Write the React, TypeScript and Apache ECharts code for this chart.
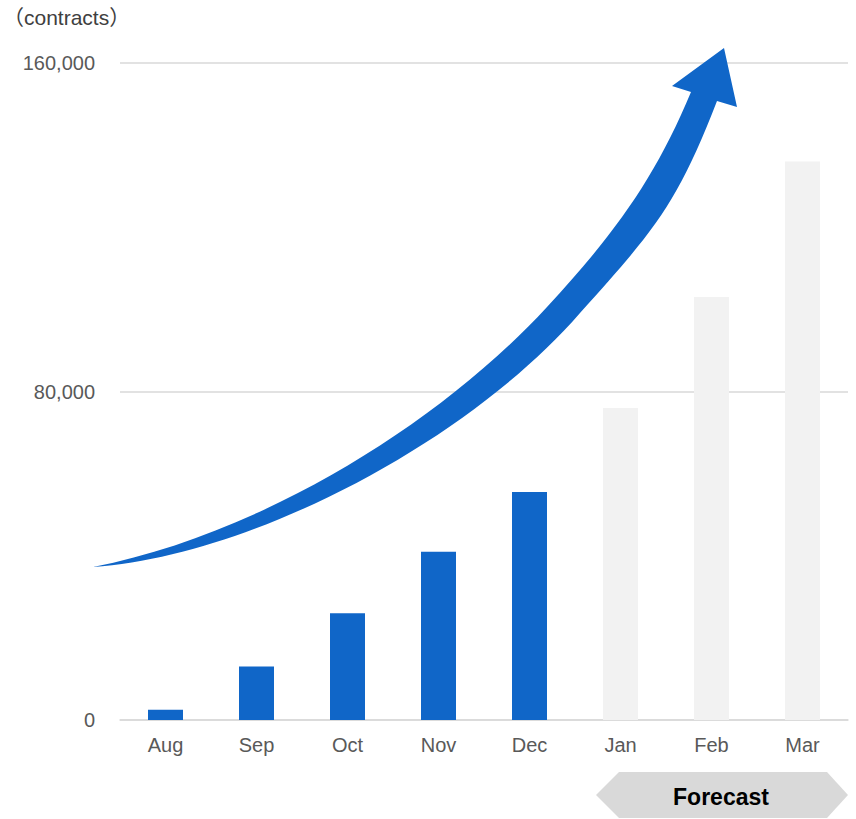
import React, { useEffect, useRef } from "react";
import * as echarts from "echarts";

const categories = ["Aug", "Sep", "Oct", "Nov", "Dec", "Jan", "Feb", "Mar"];
const actualValues = [2500, 13000, 26000, 41000, 55500];
const forecastValues = [76000, 103000, 136000];
const yMin = 0;
const yMax = 160000;
const yInterval = 80000;
const unitLabel = "（contracts）";
const forecastLabel = "Forecast";

const BLUE = "#1066C8";
const GRAY_BAR = "#F2F2F2";
const GRID = "#D9D9D9";
const LABEL = "#595959";

// decorative growth arrow outline (page pixels, SVG path)
const ARROW_PATH =
  "M 93 567 " +
  "C 260 534, 437 426, 547 307 " +
  "C 617 231.4, 656 176, 691 92 " +
  "L 672 86 L 724 48 L 737 107 L 717 101 " +
  "C 677 204.2, 655 229.75, 580 313 " +
  "C 470 440, 253 556, 93 567 Z";

const TAG_PATH = "M 596 795 L 619 772 L 827 772 L 848 795 L 827 818 L 619 818 Z";

let registered = false;

export default function App() {
  const ref = useRef<HTMLDivElement>(null);
  useEffect(() => {
    if (!ref.current) return;
    if (!registered) {
      echarts.graphic.registerShape(
        "growthArrow",
        echarts.graphic.extendPath(ARROW_PATH, {}) as any
      );
      echarts.graphic.registerShape(
        "forecastTag",
        echarts.graphic.extendPath(TAG_PATH, {}) as any
      );
      registered = true;
    }
    const chart = echarts.init(ref.current, null, { renderer: "svg" });
    const data = [
      ...actualValues.map((v) => ({ value: v, itemStyle: { color: BLUE } })),
      ...forecastValues.map((v) => ({ value: v, itemStyle: { color: GRAY_BAR } })),
    ];
    chart.setOption({
      animation: false,
      backgroundColor: "#ffffff",
      textStyle: { fontFamily: "'Liberation Sans', Arial, sans-serif" },
      grid: { left: 120, right: 8, top: 63, bottom: 99, containLabel: false },
      xAxis: {
        type: "category",
        data: categories,
        axisTick: { show: false },
        axisLine: { lineStyle: { color: GRID, width: 1.5 } },
        axisLabel: { color: LABEL, fontSize: 20, margin: 15 },
      },
      yAxis: {
        type: "value",
        min: yMin,
        max: yMax,
        interval: yInterval,
        axisLine: { show: false },
        axisTick: { show: false },
        splitLine: { lineStyle: { color: GRID, width: 1.5 } },
        axisLabel: {
          color: LABEL,
          fontSize: 20,
          margin: 25,
          formatter: (v: number) => v.toLocaleString("en-US"),
        },
      },
      series: [
        {
          type: "bar",
          data,
          barWidth: 35,
        },
      ],
      graphic: [
        {
          type: "text",
          left: 3,
          top: 7,
          style: {
            text: unitLabel,
            fill: "#404040",
            fontSize: 21,
            fontFamily: "'Liberation Sans', 'Noto Sans CJK JP', sans-serif",
          },
        },
        {
          type: "growthArrow",
          x: 0,
          y: 0,
          z: 100,
          style: { fill: BLUE },
        },
        {
          type: "forecastTag",
          x: 0,
          y: 0,
          z: 100,
          style: { fill: "#D9D9D9" },
        },
        {
          type: "text",
          x: 721,
          y: 797,
          z: 101,
          style: {
            text: forecastLabel,
            fill: "#000000",
            fontSize: 23,
            fontWeight: "bold",
            align: "center",
            verticalAlign: "middle",
            fontFamily: "'Liberation Sans', Arial, sans-serif",
          },
        },
      ],
    });
    return () => chart.dispose();
  }, []);
  return (
    <div
      ref={ref}
      style={{ position: "absolute", left: 0, top: 0, width: 856, height: 819 }}
    />
  );
}
